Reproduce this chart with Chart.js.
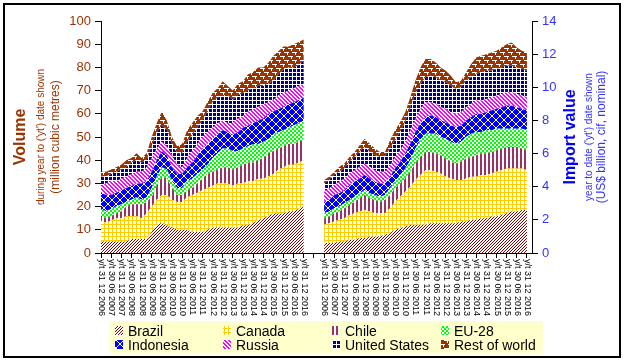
<!DOCTYPE html>
<html><head><meta charset="utf-8">
<script src="https://cdn.jsdelivr.net/npm/chart.js@4/dist/chart.umd.min.js"></script>
<style>html,body{margin:0;padding:0;background:#fff}canvas{display:block}</style>
</head><body>
<canvas id="c" width="628" height="362"></canvas>
<script>
// Half-year tick labels (each panel), data points are quarterly
const tickLabels = ['y/t 31 12 2006','y/t 30 06 2007','y/t 31 12 2007','y/t 30 06 2008','y/t 31 12 2008','y/t 30 06 2009','y/t 31 12 2009','y/t 30 06 2010','y/t 31 12 2010','y/t 30 06 2011','y/t 31 12 2011','y/t 30 06 2012','y/t 31 12 2012','y/t 30 06 2013','y/t 31 12 2013','y/t 30 06 2014','y/t 31 12 2014','y/t 30 06 2015','y/t 31 12 2015','y/t 30 06 2016','y/t 31 12 2016'];
const seriesNames = ['Brazil','Canada','Chile','EU-28','Indonesia','Russia','United States','Rest of world'];

// Volume (million cubic metres), quarterly
const volBrazil = [5,5,5,5,5,5,6,6,6,6,9,12,13,12,11,10,10,10,9,9,9,10,11,11,11,11,11,11,12,12,13,14,15,16,17,17,17,18,18,19,20];
const volCanada = [9,8,9,10,10,11,10,10,9,11,11,11,12,13,12,12,12,14,16,17,18,18,18,19,19,19,18,19,18,19,18,18,17,17,17,19,20,20,20,20,20];
const volChile = [2,2,2,2,3,4,5,5,6,5,4,6,8,7,5,3,3,3,3,4,5,6,6,6,7,7,7,7,8,8,8,8,9,10,10,9,9,9,9,9,9];
const volEU = [3,3,3,3,3,2,2,3,2,2,4,4,4,4,3,3,3,4,4,4,4,4,6,7,8,8,8,7,7,7,8,7,7,6,7,7,7,7,8,8,8];
const volIndonesia = [7,7,6,6,6,6,6,6,7,7,7,7,7,6,6,6,6,6,7,8,9,9,8,8,8,7,7,8,9,9,9,10,10,11,10,10,10,10,10,10,10];
const volRussia = [3,5,6,5,5,5,5,5,5,6,6,5,4,4,5,4,3,4,5,5,5,5,5,5,4,4,5,6,5,6,6,6,6,5,5,6,6,6,6,6,6];
const volUS = [4,3,3,4,4,4,5,5,4,3,5,7,7,7,5,5,6,7,7,7,7,9,11,11,11,12,10,10,10,9,9,9,8,8,8,9,10,10,9,9,10];
const volRoW = [2,2,2,2,2,3,2,3,2,3,4,4,6,4,3,3,4,5,5,5,4,4,4,4,6,4,4,5,5,7,7,8,8,9,11,10,10,9,10,10,9];

// Import value (US$ billion), quarterly
const valBrazil = [0.6,0.6,0.6,0.7,0.7,0.8,0.8,0.9,0.9,1.0,1.0,1.0,1.1,1.2,1.4,1.5,1.6,1.7,1.7,1.7,1.7,1.8,1.8,1.8,1.8,1.8,1.8,1.9,1.9,2.0,2.0,2.1,2.1,2.2,2.2,2.3,2.4,2.5,2.5,2.6,2.6];
const valCanada = [1.1,1.2,1.3,1.3,1.4,1.5,1.6,1.6,1.7,1.5,1.4,1.4,1.3,1.5,1.7,1.9,2.1,2.3,2.7,3.0,3.3,3.2,3.1,3.0,2.8,2.7,2.6,2.5,2.6,2.6,2.6,2.6,2.6,2.6,2.7,2.7,2.7,2.6,2.6,2.5,2.4];
const valChile = [0.4,0.4,0.5,0.5,0.6,0.6,0.7,0.8,0.9,0.8,0.8,0.7,0.8,0.8,0.8,0.8,0.8,0.9,1.0,1.1,1.1,1.1,1.1,1.1,1.1,1.0,1.0,1.1,1.2,1.2,1.3,1.3,1.3,1.3,1.3,1.3,1.3,1.3,1.3,1.2,1.2];
const valEU = [0.3,0.3,0.3,0.3,0.3,0.3,0.3,0.3,0.3,0.3,0.3,0.3,0.3,0.4,0.4,0.5,0.6,0.7,0.9,1.0,1.1,1.1,1.2,1.1,1.2,1.2,1.2,1.2,1.3,1.4,1.4,1.3,1.4,1.3,1.3,1.2,1.1,1.1,1.1,1.2,1.2];
const valIndonesia = [0.7,0.7,0.8,0.8,0.8,0.9,0.9,0.9,0.9,0.9,0.8,0.8,0.7,0.7,0.8,0.8,0.9,1.0,1.0,1.0,1.0,1.1,1.0,1.0,1.0,1.0,1.0,1.0,1.0,1.0,1.1,1.1,1.1,1.2,1.2,1.3,1.4,1.4,1.3,1.2,1.2];
const valRussia = [0.6,0.7,0.6,0.7,0.7,0.7,0.7,0.7,0.7,0.7,0.7,0.7,0.7,0.7,0.7,0.7,0.7,0.8,0.8,0.9,0.9,0.8,0.8,0.8,0.8,0.8,0.8,0.8,0.8,0.8,0.8,0.8,0.8,0.8,0.8,0.8,0.8,0.8,0.8,0.8,0.8];
const valUS = [0.5,0.5,0.6,0.6,0.6,0.7,0.8,0.9,1.0,0.9,0.9,0.9,0.9,1.0,1.0,1.1,1.2,1.4,1.5,1.5,1.5,1.6,1.6,1.6,1.6,1.6,1.5,1.5,1.6,1.6,1.6,1.7,1.7,1.6,1.6,1.6,1.6,1.6,1.6,1.6,1.6];
const valRoW = [0.2,0.2,0.2,0.3,0.3,0.3,0.3,0.4,0.5,0.5,0.4,0.3,0.3,0.5,0.6,0.6,0.6,0.6,0.8,1.0,1.1,1.0,0.9,0.8,0.7,0.6,0.4,0.4,0.5,0.8,1.0,1.0,1.0,1.1,1.1,1.2,1.3,1.4,1.2,1.1,1.1];

const volSeries = [volBrazil,volCanada,volChile,volEU,volIndonesia,volRussia,volUS,volRoW];
const valSeries = [valBrazil,valCanada,valChile,valEU,valIndonesia,valRussia,valUS,valRoW];

// Category axis: left panel (41 quarters), 3 blank quarters, right panel (41 quarters), 1 blank
const Q = 41, GAP = 3, RIGHT0 = Q + GAP, N = RIGHT0 + Q + 1;
const panelLabels = [];
for (let i = 0; i < Q; i++) panelLabels.push(i % 2 === 0 ? tickLabels[i/2] : '');
const labels = [...panelLabels, '', '', '', ...panelLabels, ''];

function pad(arr, start){ const out = new Array(N).fill(null); arr.forEach((v,i)=>{ out[start+i]=v; }); return out; }

const canvas = document.getElementById('c');
const mctx = canvas.getContext('2d');
function makePattern(w,h,bg,fg,fn){
  const t=document.createElement('canvas'); t.width=w; t.height=h;
  const g=t.getContext('2d'); g.fillStyle=bg; g.fillRect(0,0,w,h); g.fillStyle=fg;
  for(let y=0;y<h;y++) for(let x=0;x<w;x++) if(fn(x,y)) g.fillRect(x,y,1,1);
  return mctx.createPattern(t,'repeat');
}
const brick = [[0,0],[1,0],[2,0],[3,0],[4,0],[3,1],[3,2],[4,4],[5,4],[6,4],[7,4],[0,4],[7,5],[7,6]];
const patterns = [
  makePattern(3,3,'#fff','#800000',(x,y)=>(x+y)%3===2),
  makePattern(4,4,'#fff','#FFCC00',(x,y)=>x===0||y===0),
  makePattern(4,4,'#fff','#993366',(x,y)=>x<2),
  makePattern(4,4,'#fff','#00FF00',(x,y)=>(x<2)===(y<2)),
  makePattern(8,8,'#0000FF','#fff',(x,y)=>x===y||x+y===7),
  makePattern(4,4,'#fff','#FF00FF',(x,y)=>((x-y+8)%4)<2),
  makePattern(4,4,'#000080','#fff',(x,y)=>x===0||y===0),
  makePattern(8,8,'#993300','#fff',(x,y)=>brick.some(p=>p[0]===x&&p[1]===y))
];

const datasets = [];
volSeries.forEach((s,k)=>datasets.push({label:seriesNames[k], data:pad(s,0), yAxisID:'y', stack:'vol',
  fill: k===0?'origin':'-1', backgroundColor:patterns[k], borderWidth:0, pointRadius:0, tension:0}));
valSeries.forEach((s,k)=>datasets.push({label:seriesNames[k], data:pad(s,RIGHT0), yAxisID:'y2', stack:'val',
  fill: k===0?'origin':'-1', backgroundColor:patterns[k], borderWidth:0, pointRadius:0, tension:0}));

const FONT = 'Arial, "Liberation Sans", sans-serif';

const decor = {
  id:'decor',
  afterDraw(chart){
    const ctx = chart.ctx, xs = chart.scales.x, ca = chart.chartArea;
    ctx.save();
    // x labels rotated clockwise
    ctx.font = '9px ' + FONT; ctx.fillStyle = '#000'; ctx.textAlign='left'; ctx.textBaseline='middle';
    chart.data.labels.forEach((lab,i)=>{
      if(!lab) return;
      const x = xs.getPixelForValue(i);
      ctx.save(); ctx.translate(x+0.5, ca.bottom+6); ctx.rotate(Math.PI/2); ctx.fillText(lab,0,0); ctx.restore();
    });
    // axis titles
    const cy = (ca.top+ca.bottom)/2;
    function vtext(txt,x,y,font,color){ ctx.save(); ctx.translate(x,y); ctx.rotate(-Math.PI/2); ctx.font=font; ctx.fillStyle=color; ctx.textAlign='center'; ctx.textBaseline='middle'; ctx.fillText(txt,0,0); ctx.restore(); }
    vtext('Volume',21,cy,'bold 16px '+FONT,'#993300');
    vtext("during year to ('yt') date shown",41,cy,'10px '+FONT,'#993300');
    vtext('(million cubic metres)',56,cy,'12px '+FONT,'#993300');
    vtext('Import value',571,cy,'bold 16px '+FONT,'#0000FF');
    vtext("year to date ('yt') date shown",589,cy,'10px '+FONT,'#3333FF');
    vtext('(US$ billion, cif, nominal)',602,cy,'12px '+FONT,'#3333FF');
    // legend
    ctx.fillStyle = '#FFFFCC'; ctx.fillRect(109,321,434,32);
    const colX = [115,223,332,441], rowY = [331,345];
    ctx.font = '14px ' + FONT; ctx.textAlign='left'; ctx.textBaseline='middle';
    seriesNames.forEach((n,k)=>{
      const x = colX[k%4], y = rowY[Math.floor(k/4)];
      ctx.fillStyle = patterns[k]; ctx.fillRect(x, y-5, 8, 9);
      ctx.fillStyle = '#000'; ctx.fillText(n, x+13, y+1);
    });
    // outer border
    ctx.strokeStyle = '#000'; ctx.lineWidth = 2; ctx.strokeRect(4,4,616,353);
    ctx.restore();
  }
};

new Chart(canvas, {
  type:'line',
  data:{labels, datasets},
  options:{
    responsive:false, animation:false, devicePixelRatio:1,
    layout:{padding:{top:21,left:0,right:0,bottom:0}},
    plugins:{legend:{display:false}, tooltip:{enabled:false}, title:{display:false}},
    elements:{line:{borderWidth:0}, point:{radius:0}},
    scales:{
      x:{
        type:'category', offset:false,
        ticks:{display:false, autoSkip:false},
        grid:{drawOnChartArea:false, drawTicks:true, tickLength:5,
          color:(c)=> (c.index%2===0 && c.index < N-1) ? '#000' : 'rgba(0,0,0,0)'},
        border:{display:true, color:'#000', width:1},
        afterFit:(s)=>{ s.height = 109; }
      },
      y:{
        position:'left', stacked:true, min:0, max:100,
        ticks:{stepSize:10, color:'#993300', font:{size:13, family:FONT}, padding:4},
        grid:{drawOnChartArea:false, drawTicks:true, tickLength:6, color:'#000'},
        border:{display:true, color:'#000', width:1},
        afterFit:(s)=>{ s.width = 101; }
      },
      y2:{
        position:'right', stacked:true, min:0, max:14,
        ticks:{stepSize:2, color:'#3333FF', font:{size:13, family:FONT}, padding:4},
        grid:{drawOnChartArea:false, drawTicks:true, tickLength:6, color:'#000'},
        border:{display:true, color:'#000', width:1},
        afterFit:(s)=>{ s.width = 96; }
      }
    }
  },
  plugins:[decor]
});
</script>
</body></html>
